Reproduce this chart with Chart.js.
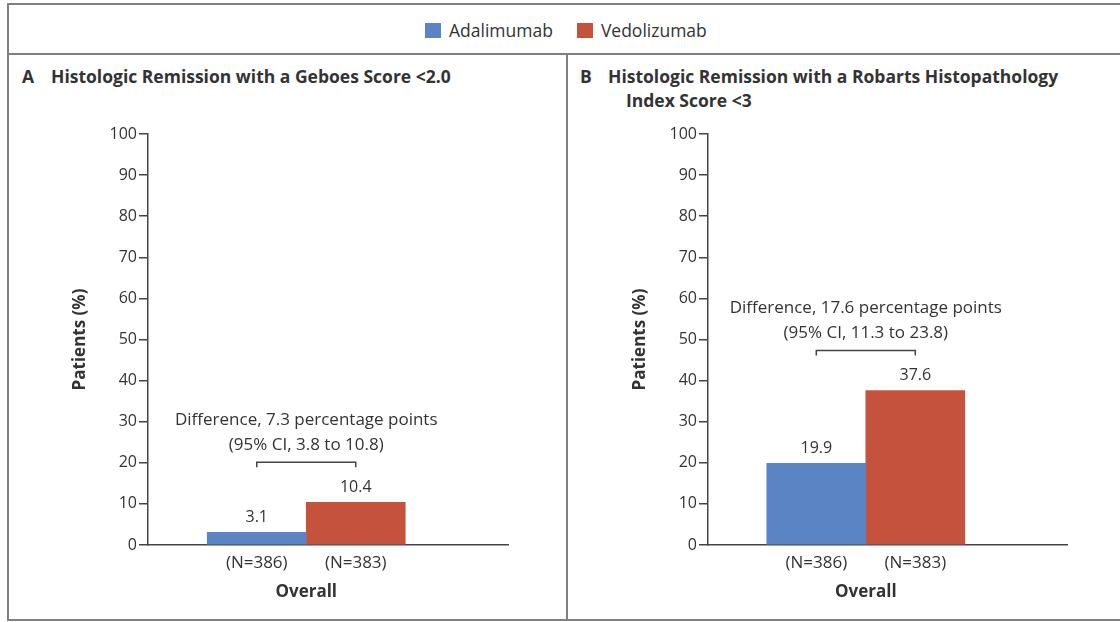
<!DOCTYPE html>
<html>
<head>
<meta charset="utf-8">
<script src="https://cdn.jsdelivr.net/npm/chart.js@4.4.1/dist/chart.umd.min.js"></script>
<style>
  body { margin: 0; background: #fff; font-family: "Open Sans", sans-serif; color: #333; }
  #figure { position: relative; width: 1120px; height: 622px; overflow: hidden; }
  .rule { position: absolute; background: #808080; }
  .legend { position: absolute; top: 19px; left: 425px; display: flex; align-items: center; font-size: 17.5px; height: 22px; }
  .swatch { width: 16px; height: 15px; margin-right: 8px; }
  .legend span.label { margin-right: 24px; }
  .title { position: absolute; font-weight: bold; font-size: 17.5px; line-height: 24px; }
  canvas { position: absolute; }
</style>
</head>
<body>
<div id="figure">
  <div class="rule" style="left:7px; top:3px; width:1120px; height:2px"></div>
  <div class="rule" style="left:7px; top:53px; width:1120px; height:2px"></div>
  <div class="rule" style="left:7px; top:619px; width:1120px; height:2px"></div>
  <div class="rule" style="left:7px; top:3px; width:2px; height:618px"></div>
  <div class="rule" style="left:566px; top:53px; width:2px; height:567px"></div>

  <div class="legend" id="legend"></div>

  <div class="title" style="left:22px; top:64px">A</div>
  <div class="title" style="left:51px; top:64px">Histologic Remission with a Geboes Score &lt;2.0</div>
  <div class="title" style="left:580px; top:64px">B</div>
  <div class="title" style="left:608px; top:64px">Histologic Remission with a Robarts Histopathology<br><span style="margin-left:18px">Index Score &lt;3</span></div>

  <canvas id="chartA" width="557" height="510" style="left:9px; top:110px"></canvas>
  <canvas id="chartB" width="551" height="510" style="left:569px; top:110px"></canvas>
</div>

<script>
const treatments = ['Adalimumab', 'Vedolizumab'];
const treatmentColors = ['#5b84c4', '#c5523c'];
const patientCounts = [386, 383];
const groupLabels = ['Overall'];

// histologic remission, % of patients
const geboesRemission = [3.1, 10.4];
const robartsRemission = [19.9, 37.6];

// vedolizumab minus adalimumab, percentage points
const differences = [7.3, 17.6];
const ciLower = [3.8, 11.3];
const ciUpper = [10.8, 23.8];

const textColor = '#333';
const axisColor = '#444';
const fontFamily = 'Open Sans';

const legend = document.getElementById('legend');
treatments.forEach((name, i) => {
    const swatch = document.createElement('div');
    swatch.className = 'swatch';
    swatch.style.background = treatmentColors[i];
    const label = document.createElement('span');
    label.className = 'label';
    label.textContent = name;
    legend.appendChild(swatch);
    legend.appendChild(label);
});

const barNotes = {
    id: 'barNotes',
    afterDatasetsDraw(chart, args, opts) {
        const ctx = chart.ctx;
        const bars = chart.data.datasets.map((ds, d) => chart.getDatasetMeta(d).data[0]);
        const bottom = chart.chartArea.bottom;
        const cx = (bars[0].x + bars[1].x) / 2;
        ctx.save();
        ctx.fillStyle = textColor;
        ctx.strokeStyle = axisColor;
        ctx.textAlign = 'center';
        ctx.textBaseline = 'middle';

        bars.forEach((bar, d) => {
            const value = chart.data.datasets[d].data[0].y;
            ctx.font = '16px "' + fontFamily + '"';
            ctx.fillText(value.toFixed(1), bar.x, bar.y - 15);
            ctx.font = '17px "' + fontFamily + '"';
            ctx.fillText('(N=' + patientCounts[d] + ')', bar.x, bottom + 18);
        });

        // bracket between the two bars with the difference above it
        const top = Math.min(bars[0].y, bars[1].y) - 40;
        ctx.lineWidth = 1.5;
        ctx.beginPath();
        ctx.moveTo(bars[0].x, top + 5);
        ctx.lineTo(bars[0].x, top);
        ctx.lineTo(bars[1].x, top);
        ctx.lineTo(bars[1].x, top + 5);
        ctx.stroke();

        const i = opts.panel;
        ctx.font = '17px "' + fontFamily + '"';
        ctx.fillText('Difference, ' + differences[i] + ' percentage points', cx, top - 42);
        ctx.fillText('(95% CI, ' + ciLower[i] + ' to ' + ciUpper[i] + ')', cx, top - 17);

        ctx.font = 'bold 17px "' + fontFamily + '"';
        ctx.fillText(groupLabels[0], cx, bottom + 47);
        ctx.restore();
    }
};

function makeChart(canvasId, values, panel, rightPad) {
    return new Chart(document.getElementById(canvasId), {
        type: 'bar',
        data: {
            datasets: treatments.map((name, d) => ({
                label: name,
                data: [{ x: 0, y: values[d] }],
                backgroundColor: treatmentColors[d],
                barThickness: 99
            }))
        },
        options: {
            responsive: false,
            animation: false,
            events: [],
            layout: { padding: { top: 24, right: rightPad, left: 0, bottom: 0 } },
            plugins: {
                legend: { display: false },
                tooltip: { enabled: false },
                barNotes: { panel: panel }
            },
            scales: {
                x: {
                    type: 'linear',
                    offset: false,
                    min: -1.6,
                    max: 2.04,
                    grid: { display: false },
                    border: { display: true, color: axisColor, width: 1.5 },
                    ticks: { display: false },
                    afterFit: scale => { scale.height = 75; }
                },
                y: {
                    min: 0,
                    max: 100,
                    ticks: {
                        stepSize: 10,
                        padding: 2,
                        color: textColor,
                        font: { family: fontFamily, size: 16 }
                    },
                    grid: {
                        drawOnChartArea: false,
                        drawTicks: true,
                        tickLength: 9,
                        color: axisColor,
                        lineWidth: 1.5
                    },
                    border: { display: true, color: axisColor, width: 1.5 },
                    title: {
                        display: true,
                        text: 'Patients (%)',
                        color: textColor,
                        font: { family: fontFamily, size: 17, weight: 'bold' },
                        padding: { top: 61, bottom: 0 }
                    },
                    afterFit: scale => { scale.width = 139; }
                }
            }
        },
        plugins: [barNotes]
    });
}

makeChart('chartA', geboesRemission, 0, 58);
makeChart('chartB', robartsRemission, 1, 53);
</script>
</body>
</html>
